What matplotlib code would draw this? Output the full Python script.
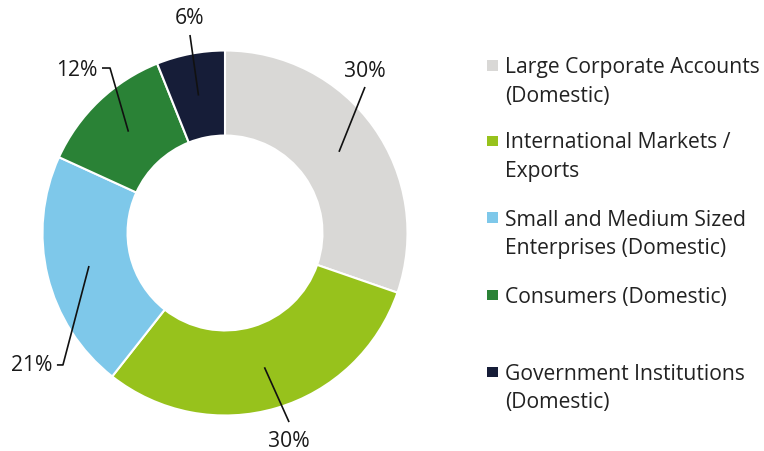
import numpy as np
import matplotlib.pyplot as plt
from matplotlib.patches import Rectangle

plt.rcParams['font.family'] = ['Open Sans', 'DejaVu Sans']

# data
labels = ['Large Corporate Accounts\n(Domestic)',
          'International Markets /\nExports',
          'Small and Medium Sized\nEnterprises (Domestic)',
          'Consumers (Domestic)',
          'Government Institutions\n(Domestic)']
values = [30, 30, 21, 12, 6]
pct_labels = ['30%', '30%', '21%', '12%', '6%']
colors = ['#D9D8D6', '#97C21C', '#7EC8EA', '#2A8236', '#161D38']

W, H = 764, 451
fig = plt.figure(figsize=(W / 100, H / 100), dpi=100)

# donut centre (225, 233) px, outer radius 182.5 px
cx, cy, R = 225, 233, 182.5
ax = fig.add_axes([(cx - R) / W, (H - cy - R) / H, 2 * R / W, 2 * R / H])
wedges, _ = ax.pie(values, colors=colors, startangle=90, counterclock=False,
                   radius=1, wedgeprops=dict(width=0.466, edgecolor='white', linewidth=1.5))
ax.set_xlim(-1, 1)
ax.set_ylim(-1, 1)
ax.set_aspect('equal')
ax.axis('off')

# leader line layout: (line end / elbow, optional horizontal end, text pos, ha)
layout = [
    ((0.767, 0.80), None, (0.767, 0.885), 'center'),
    ((0.351, -1.036), None, (0.351, -1.14), 'center'),
    ((-0.888, -0.723), (-0.921, -0.723), (-0.945, -0.728), 'right'),
    ((-0.630, 0.904), (-0.674, 0.904), (-0.70, 0.893), 'right'),
    ((-0.192, 1.085), None, (-0.197, 1.175), 'center'),
]

r_mid = 0.767
for w, txt, (p1, p2, tp, ha) in zip(wedges, pct_labels, layout):
    ang = np.deg2rad((w.theta1 + w.theta2) / 2)
    xs = [r_mid * np.cos(ang), p1[0]]
    ys = [r_mid * np.sin(ang), p1[1]]
    if p2 is not None:
        xs.append(p2[0])
        ys.append(p2[1])
    ax.plot(xs, ys, color='#111111', lw=1.2, clip_on=False, solid_capstyle='butt')
    ax.text(tp[0], tp[1], txt, ha=ha, va='center', fontsize=15.2, color='#1a1a1a')

# legend drawn by hand (markers aligned with first line)
leg_y = [67, 142, 219, 296, 373]
for lab, col, y in zip(labels, colors, leg_y):
    fig.patches.append(Rectangle((487 / W, 1 - (y + 4) / H), 10.5 / W, 10.5 / H,
                                 facecolor=col, edgecolor='none', transform=fig.transFigure))
    for i, line in enumerate(lab.split('\n')):
        fig.text(505 / W, 1 - (y + 1 + i * 28.5) / H, line, ha='left', va='center',
                 fontsize=15.2, color='#222222')

fig.savefig('out.png', dpi=100, facecolor='white')
